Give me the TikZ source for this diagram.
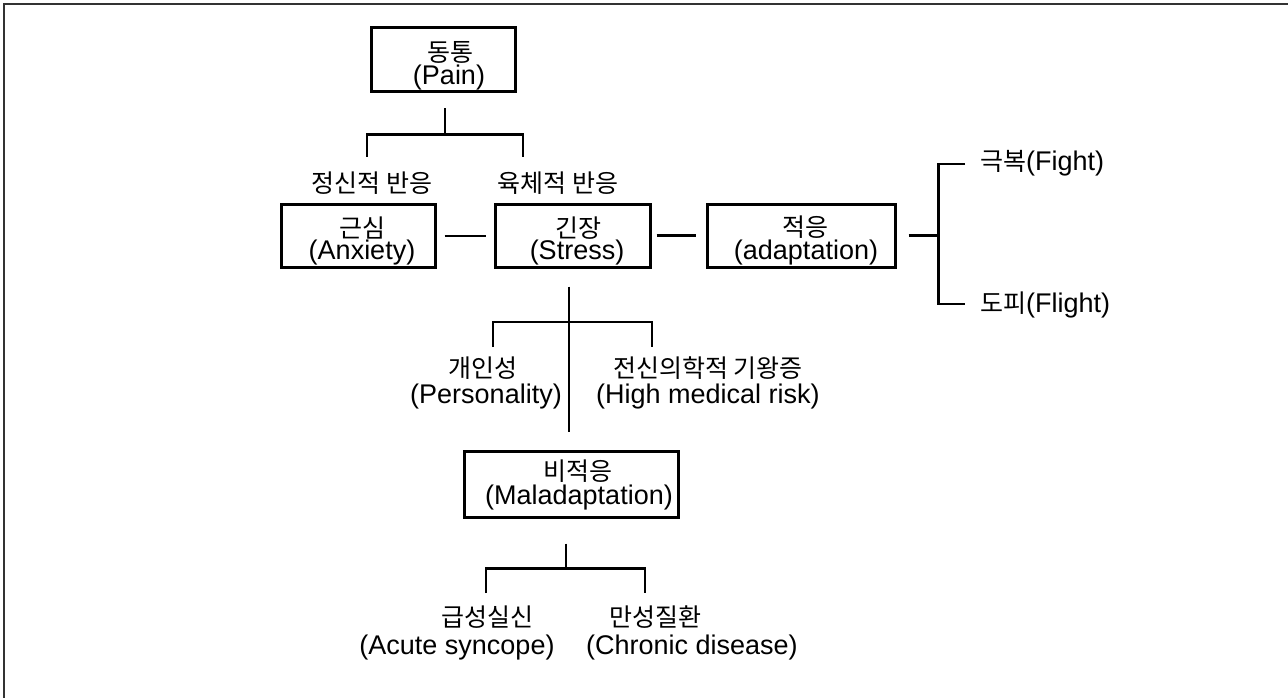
\documentclass[tikz,border=0pt]{standalone}
\usepackage{fontspec}
\setmainfont{Liberation Sans}
\newfontfamily\kr{Noto Sans CJK KR}
\usetikzlibrary{calc}
\begin{document}
\begin{tikzpicture}[x=1pt,y=-1pt,
  box/.style={draw, line width=3pt, inner sep=0pt},
  conn/.style={line width=2.3pt},
  lat/.style={font=\fontsize{27}{30}\selectfont, inner sep=0pt},
  kor/.style={font=\kr\fontsize{25}{29}\selectfont, inner sep=0pt},
  mix/.style={font=\fontsize{27}{30}\selectfont, inner sep=0pt, anchor=west}
]
\useasboundingbox (0,0) rectangle (1288,698);
\fill[white] (0,0) rectangle (1288,698);
% frame
\coordinate (fTL) at (4,4);
\coordinate (fTR) at (1288,4);
\coordinate (fBL) at (4,698);
\draw[line width=2pt, black!80] (fBL) -- (fTL) -- (fTR);

% boxes
\node[box, minimum width=144pt, minimum height=64pt] (pain) at (443,60) {};
\node[box, minimum width=154pt, minimum height=63pt] (anx) at (358,235.5) {};
\node[box, minimum width=155pt, minimum height=63pt] (stress) at (572.5,235.5) {};
\node[box, minimum width=188pt, minimum height=63pt] (adapt) at (801,235.5) {};
\node[box, minimum width=214pt, minimum height=66pt] (mal) at (571,484) {};

% box texts
\node[kor] (painK) at (450,52) {동통};
\node[lat] (painL) at (449,78) {(Pain)};
\node[kor] (anxK) at (362,228) {근심};
\node[lat] (anxL) at (362,253) {(Anxiety)};
\node[kor] (stressK) at (578,228) {긴장};
\node[lat] (stressL) at (577,253) {(Stress)};
\node[kor] (adaptK) at (805,227) {적응};
\node[lat] (adaptL) at (806,253) {(adaptation)};
\node[kor] (malK) at (578,471) {비적응};
\node[lat] (malL) at (579,498) {(Maladaptation)};

% free labels
\node[kor] (mental) at (372,183) {정신적 반응};
\node[kor] (physical) at (558,183) {육체적 반응};
\node[mix] (fight) at (980,163) {{\kr\fontsize{25}{29}\selectfont 극복}(Fight)};
\node[mix] (flight) at (980,305) {{\kr\fontsize{25}{29}\selectfont 도피}(Flight)};
\node[kor] (persK) at (483,368) {개인성};
\node[lat] (persL) at (486,397) {(Personality)};
\node[kor] (riskK) at (708,368) {전신의학적 기왕증};
\node[lat] (riskL) at (708,397) {(High medical risk)};
\node[kor] (acuteK) at (487,617) {급성실신};
\node[lat] (acuteL) at (457,648) {(Acute syncope)};
\node[kor] (chronK) at (655,617) {만성질환};
\node[lat] (chronL) at (692,648) {(Chronic disease)};

% connectors
\coordinate (p1) at ($(pain.south)+(2,15)$);
\coordinate (p2) at ($(pain.south)+(2,41)$);
\draw[conn] (p1) -- (p2);
\coordinate (bL) at (367,157);
\coordinate (bR) at (523,157);
\draw[conn] (bL) -- (bL |- p2) -- (bR |- p2) -- (bR);

\draw[conn] ($(anx.east)+(8,0.5)$) -- ($(stress.west)+(-8,0.5)$);
\draw[conn] ($(stress.east)+(5,0)$) -- ($(adapt.west)+(-10,0)$);

\coordinate (a1) at ($(adapt.east)+(12,0)$);
\coordinate (a2) at ($(adapt.east)+(42,0)$);
\draw[conn] (a1) -- (a2);
\coordinate (fT) at ($(fight.west)+(-15,1)$);
\coordinate (fB) at ($(flight.west)+(-15,-1)$);
\draw[conn] (fT) -- (a2 |- fT) -- (a2 |- fB) -- (fB);

\coordinate (s1) at ($(stress.south)+(-3.5,18)$);
\coordinate (s2) at ($(stress.south)+(-3.5,163)$);
\draw[conn] (s1) -- (s2);
\coordinate (b1) at (493,347);
\coordinate (b2) at (652,347);
\draw[conn] (b1) -- (b1 |- 0,322) -- (b2 |- 0,322) -- (b2);

\coordinate (m1) at ($(mal.south)+(-5,25)$);
\coordinate (m2) at ($(mal.south)+(-5,50)$);
\draw[conn] (m1) -- (m2);
\coordinate (c1) at (486,593);
\coordinate (c2) at (645,593);
\draw[conn] (c1) -- (c1 |- m2) -- (c2 |- m2) -- (c2);
\end{tikzpicture}
\end{document}
